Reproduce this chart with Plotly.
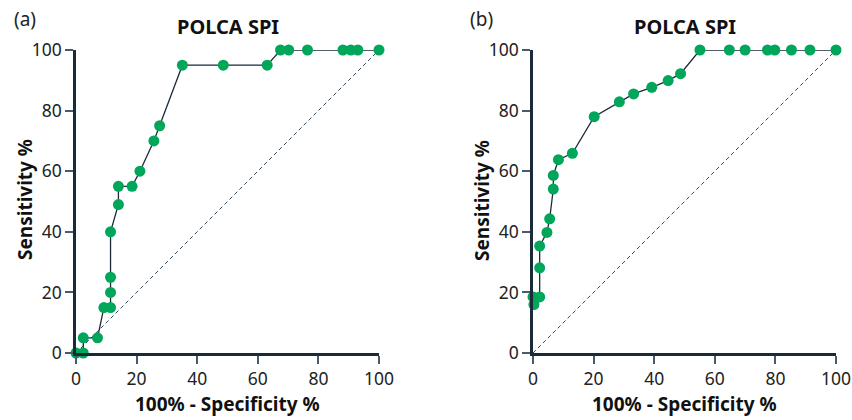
import plotly.graph_objects as go

# Panel (a) ROC points: 100% - specificity (x) and sensitivity (y)
a_fpr = [0, 2.4, 2.4, 7.1, 9.2, 11.4, 11.4, 11.4, 11.4, 14.0, 14.0, 18.5, 21.1, 25.7, 27.6,
         35.1, 48.6, 63.1, 67.5, 70.2, 76.4, 88.1, 90.7, 93.0, 100]
a_sens = [0, 0, 5, 5, 15, 15, 20, 25, 40, 49, 55, 55, 60, 70, 75,
          95, 95, 95, 100, 100, 100, 100, 100, 100, 100]

# Panel (b) ROC points
b_fpr = [0.3, 0, 2.2, 2.2, 2.2, 4.6, 5.5, 6.7, 6.7, 8.4, 13.0, 20.2, 28.5, 33.2, 39.2, 44.6, 48.7,
         55.1, 64.8, 70.0, 77.4, 79.8, 85.3, 91.4, 100]
b_sens = [16, 18.5, 18.5, 28.1, 35.3, 39.8, 44.3, 54.1, 58.6, 63.8, 65.9, 78.0, 82.9, 85.5, 87.7, 89.9, 92.2,
          100, 100, 100, 100, 100, 100, 100, 100]

diag = [0, 100]
ticks = [0, 20, 40, 60, 80, 100]
panel_titles = ["POLCA SPI", "POLCA SPI"]
panel_labels = ["(a)", "(b)"]
x_title = "100% - Specificity %"
y_title = "Sensitivity %"

GREEN = "#00a65a"
AX = "#1b2a38"
FONT = "Noto Sans"

W = 852.0
H = 420.0


def px(x):
    return x / W


def py(y):
    return (H - y) / H


fig = go.Figure()
for i, (xs, ys) in enumerate([(a_fpr, a_sens), (b_fpr, b_sens)]):
    xa = "x" if i == 0 else "x2"
    ya = "y" if i == 0 else "y2"
    fig.add_trace(go.Scatter(x=diag, y=diag, mode="lines", xaxis=xa, yaxis=ya,
                             line=dict(color="#34495e", width=1, dash="4px,3px"),
                             hoverinfo="skip", showlegend=False, cliponaxis=False))
    fig.add_trace(go.Scatter(x=xs, y=ys, mode="lines+markers", xaxis=xa, yaxis=ya,
                             line=dict(color=AX, width=1.3),
                             marker=dict(color=GREEN, size=11),
                             showlegend=False, cliponaxis=False))

ydom = [py(353), py(50)]
plot_x = [(76, 379), (533, 836)]

axis_common = dict(range=[0, 100], tickvals=ticks, ticks="outside", ticklen=8, tickwidth=1.5,
                   tickcolor="#4a5a68", showline=True, linecolor=AX, linewidth=2.5,
                   showgrid=False, zeroline=False, automargin=False,
                   tickfont=dict(family=FONT, size=17.5, color="#222"))

fig.update_layout(
    width=int(W), height=int(H), margin=dict(l=0, r=0, t=0, b=0),
    paper_bgcolor="white", plot_bgcolor="white",
    font=dict(family=FONT, color="#111"),
)
for i in range(2):
    suffix = "" if i == 0 else "2"
    x0, x1 = plot_x[i]
    fig.update_layout(**{
        "xaxis" + suffix: dict(axis_common, domain=[px(x0), px(x1)], anchor="y" + suffix),
        "yaxis" + suffix: dict(axis_common, domain=ydom, anchor="x" + suffix),
    })
    cx = (x0 + x1) / 2
    fig.add_annotation(text="<b>" + panel_titles[i] + "</b>", x=px(cx), y=py(26),
                       xref="paper", yref="paper", showarrow=False,
                       xanchor="center", yanchor="middle",
                       font=dict(family=FONT, size=20, color="#111"))
    fig.add_annotation(text=panel_labels[i], x=px(x0 - 51), y=py(19.5),
                       xref="paper", yref="paper", showarrow=False,
                       xanchor="center", yanchor="middle",
                       font=dict(family=FONT, size=19, color="#222"))
    fig.add_annotation(text="<b>" + x_title + "</b>", x=px(cx), y=py(404),
                       xref="paper", yref="paper", showarrow=False,
                       xanchor="center", yanchor="middle",
                       font=dict(family=FONT, size=19, color="#111"))
    fig.add_annotation(text="<b>" + y_title + "</b>", x=px(x0 - 51), y=py(200),
                       xref="paper", yref="paper", showarrow=False, textangle=-90,
                       xanchor="center", yanchor="middle",
                       font=dict(family=FONT, size=19, color="#111"))

fig.write_html("out.html", config={"displayModeBar": False},
               post_script="document.body.style.margin='0';document.body.style.overflow='hidden';")
